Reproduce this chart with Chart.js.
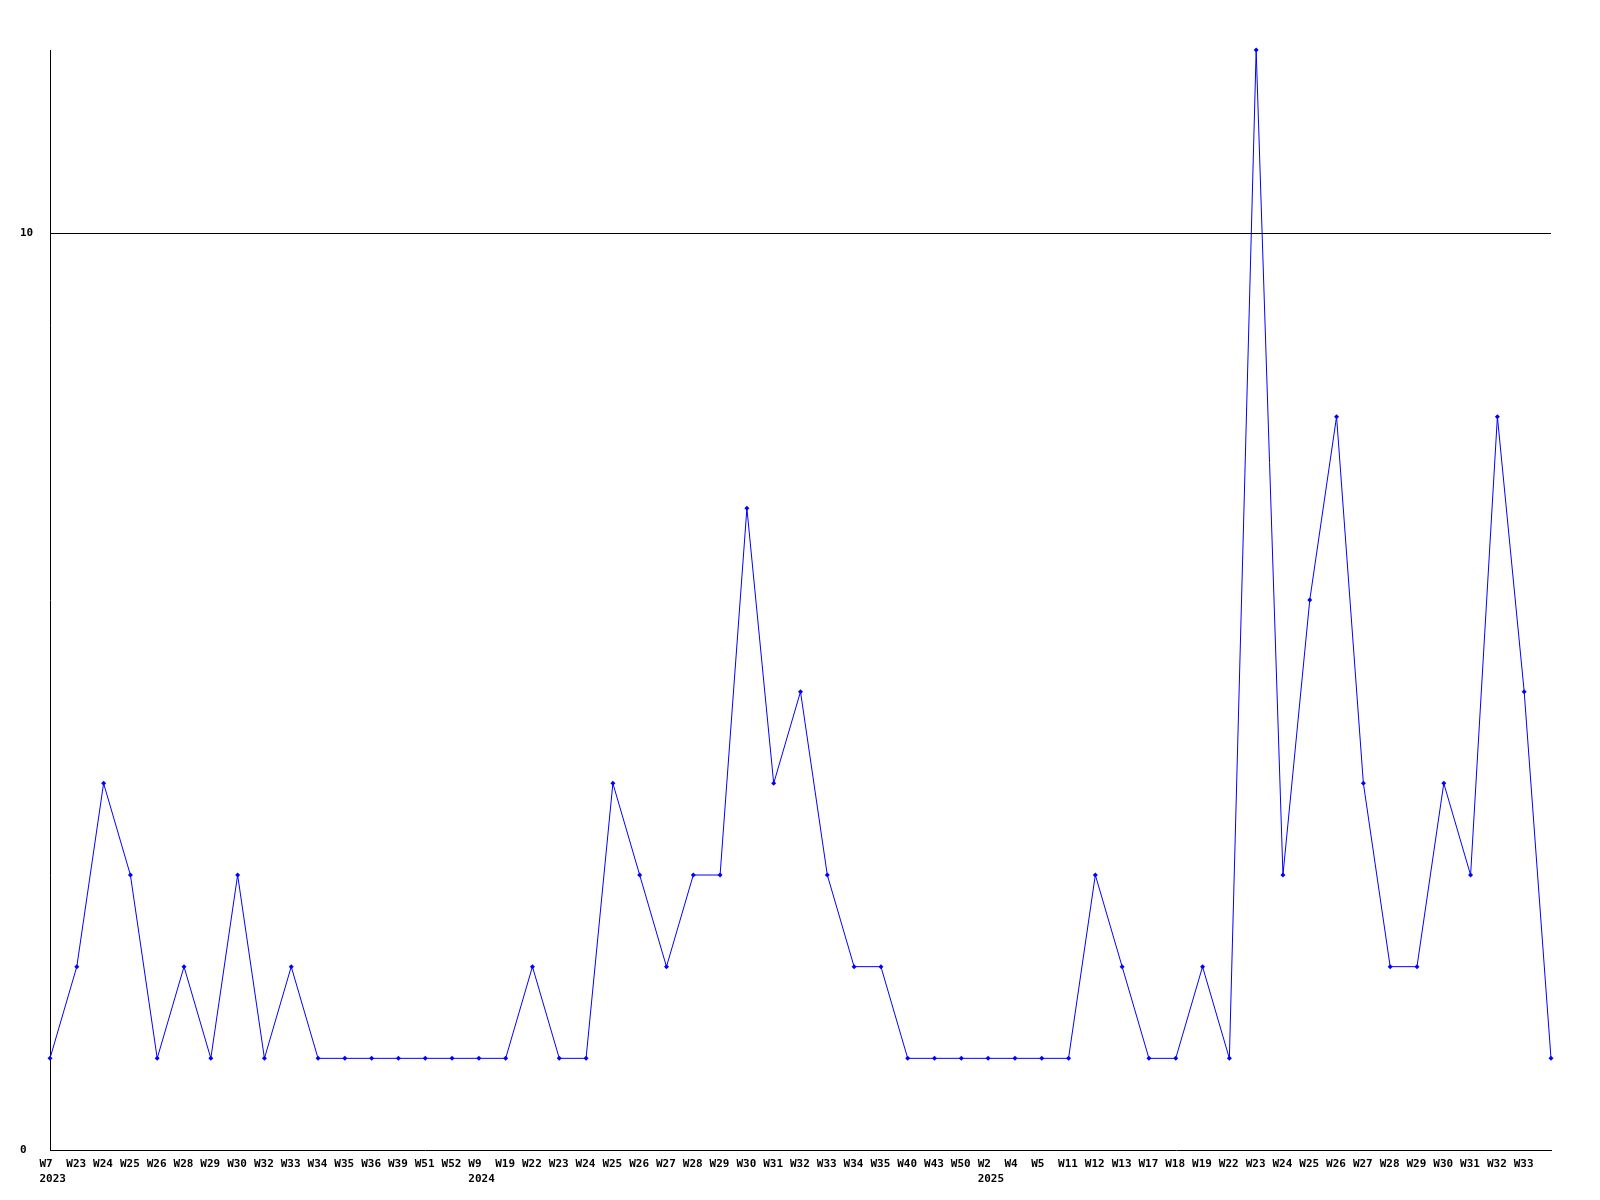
<!DOCTYPE html>
<html>
<head>
<meta charset="utf-8">
<script src="https://cdn.jsdelivr.net/npm/chart.js@4/dist/chart.umd.min.js"></script>
<style>
  html, body { margin: 0; padding: 0; background: #fff; }
  #wrap { width: 1600px; height: 1200px; }
</style>
</head>
<body>
<div id="wrap"><canvas id="chart" width="1600" height="1200"></canvas></div>
<script>
// week labels (last point has no visible label)
const weeks = [
  'W7', 'W23', 'W24', 'W25', 'W26', 'W28', 'W29', 'W30', 'W32', 'W33', 'W34', 'W35', 'W36', 'W39', 'W51', 'W52',
  'W9', 'W19', 'W22', 'W23', 'W24', 'W25', 'W26', 'W27', 'W28', 'W29', 'W30', 'W31', 'W32', 'W33', 'W34', 'W35', 'W40', 'W43', 'W50',
  'W2', 'W4', 'W5', 'W11', 'W12', 'W13', 'W17', 'W18', 'W19', 'W22', 'W23', 'W24', 'W25', 'W26', 'W27', 'W28', 'W29', 'W30', 'W31', 'W32', 'W33', ''
];
const yearIndex = [0, 16, 35];
const yearNames = ['2023', '2024', '2025'];

const counts = [
  1, 2, 4, 3, 1, 2, 1, 3, 1, 2, 1, 1, 1, 1, 1, 1,
  1, 1, 2, 1, 1, 4, 3, 2, 3, 3, 7, 4, 5, 3, 2, 2, 1, 1, 1,
  1, 1, 1, 1, 3, 2, 1, 1, 2, 1, 12, 3, 6, 8, 4, 2, 2, 4, 3, 8, 5, 1
];

const yTicks = [0, 10];
const yMax = 12;

const tickFont = { family: 'DejaVu Sans Mono', size: 11, weight: 'bold', lineHeight: 1.36 };

new Chart(document.getElementById('chart').getContext('2d'), {
  type: 'line',
  data: {
    labels: weeks,
    datasets: [{
      data: counts,
      borderColor: '#0000ff',
      backgroundColor: '#0000ff',
      borderWidth: 1,
      tension: 0,
      pointStyle: 'rectRot',
      pointRadius: 2.5,
      pointBorderWidth: 0,
      clip: false
    }]
  },
  options: {
    responsive: false,
    animation: false,
    devicePixelRatio: 1,
    layout: { padding: { left: 20, top: 50, right: 49, bottom: 0 } },
    plugins: {
      legend: { display: false },
      tooltip: { enabled: false }
    },
    scales: {
      x: {
        offset: false,
        grid: { color: 'transparent', drawTicks: false },
        border: { display: true, color: '#000', width: 1 },
        ticks: {
          autoSkip: false,
          maxRotation: 0,
          minRotation: 0,
          align: 'start',
          labelOffset: -10.5,
          padding: 6.5,
          color: '#000',
          font: tickFont,
          callback: function(val, i) {
            const y = yearIndex.indexOf(i);
            return y >= 0 ? [weeks[i], yearNames[y]] : weeks[i];
          }
        },
        afterFit: function(scale) { scale.height = 50; }
      },
      y: {
        min: 0,
        max: yMax,
        afterBuildTicks: function(scale) {
          scale.ticks = yTicks.map(v => ({ value: v }));
        },
        grid: {
          drawTicks: false,
          color: ctx => (ctx.tick && ctx.tick.value === 10) ? '#000' : 'transparent',
          lineWidth: 1
        },
        border: { display: true, color: '#000', width: 1 },
        ticks: {
          crossAlign: 'far',
          padding: 0,
          color: '#000',
          font: tickFont
        },
        afterFit: function(scale) { scale.width = 30; }
      }
    }
  }
});
</script>
</body>
</html>
